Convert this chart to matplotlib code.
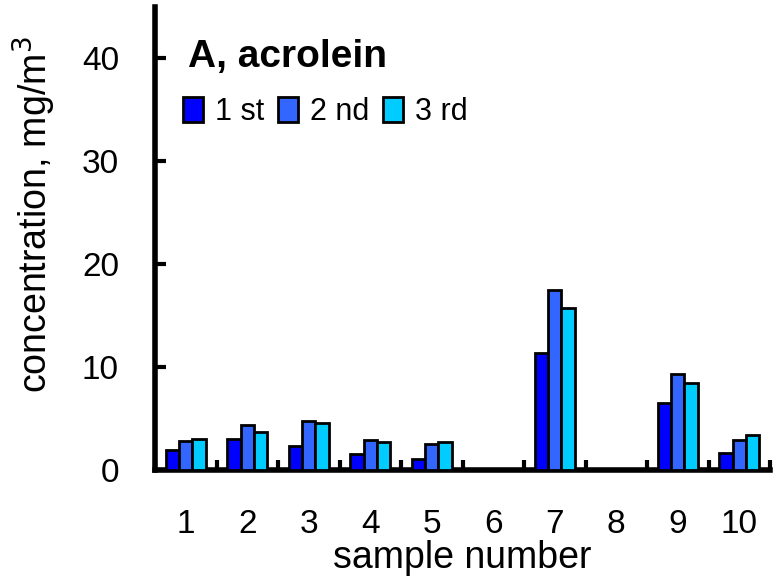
import matplotlib
matplotlib.use("Agg")
import matplotlib.pyplot as plt
import numpy as np

plt.rcParams['font.family'] = ['Liberation Sans', 'DejaVu Sans']

samples = ['1', '2', '3', '4', '5', '6', '7', '8', '9', '10']
series_names = ['1 st', '2 nd', '3 rd']
first = [1.9, 3.0, 2.3, 1.6, 1.1, 0, 11.4, 0, 6.5, 1.65]
second = [2.8, 4.4, 4.8, 2.9, 2.5, 0, 17.5, 0, 9.3, 2.9]
third = [3.0, 3.7, 4.6, 2.7, 2.7, 0, 15.7, 0, 8.5, 3.4]
colors = ['#0000FF', '#3366FF', '#00CCFF']

fig = plt.figure(figsize=(7.74, 5.83), dpi=100)
ax = fig.add_axes([155 / 774, 1 - 470 / 583, 615 / 774, 463 / 583])

x = np.arange(len(samples))
w = 0.215
for i, (vals, name, c) in enumerate(zip([first, second, third], series_names, colors)):
    ax.bar(x + (i - 1) * w, vals, width=w, color=c, edgecolor='black',
           linewidth=2, label=name, zorder=3)

ax.set_xlim(-0.5, 9.5)
ax.set_ylim(0, 45)
ax.spines['top'].set_visible(False)
ax.spines['right'].set_visible(False)
ax.spines['left'].set_linewidth(4)
ax.spines['bottom'].set_linewidth(4)

ax.set_yticks([0, 10, 20, 30, 40])
ax.tick_params(axis='y', direction='in', length=8, width=3, labelsize=24, pad=26)
ax.set_xticks(x)
ax.set_xticklabels(samples)
ax.set_xticks(np.arange(-0.5, 10, 1), minor=True)
ax.tick_params(axis='x', which='major', length=0, labelsize=24, pad=28)
ax.tick_params(axis='x', which='minor', direction='in', length=7, width=3)

ax.set_xlabel('sample number', fontsize=27, labelpad=0)
ax.set_ylabel('concentration, mg/m$^3$', fontsize=27)
ax.yaxis.set_label_coords(-0.158, 0.551)

ax.text(0.054, 0.892, 'A, acrolein', transform=ax.transAxes, fontsize=28,
        fontweight='bold', va='center', ha='left')

leg = ax.legend(loc='center left', bbox_to_anchor=(0.045, 0.773), ncol=3,
                frameon=False, fontsize=22, handlelength=0.65, handleheight=0.9,
                handletextpad=0.4, columnspacing=0.45, borderaxespad=0,
                borderpad=0)

fig.savefig('out.png', dpi=100)
